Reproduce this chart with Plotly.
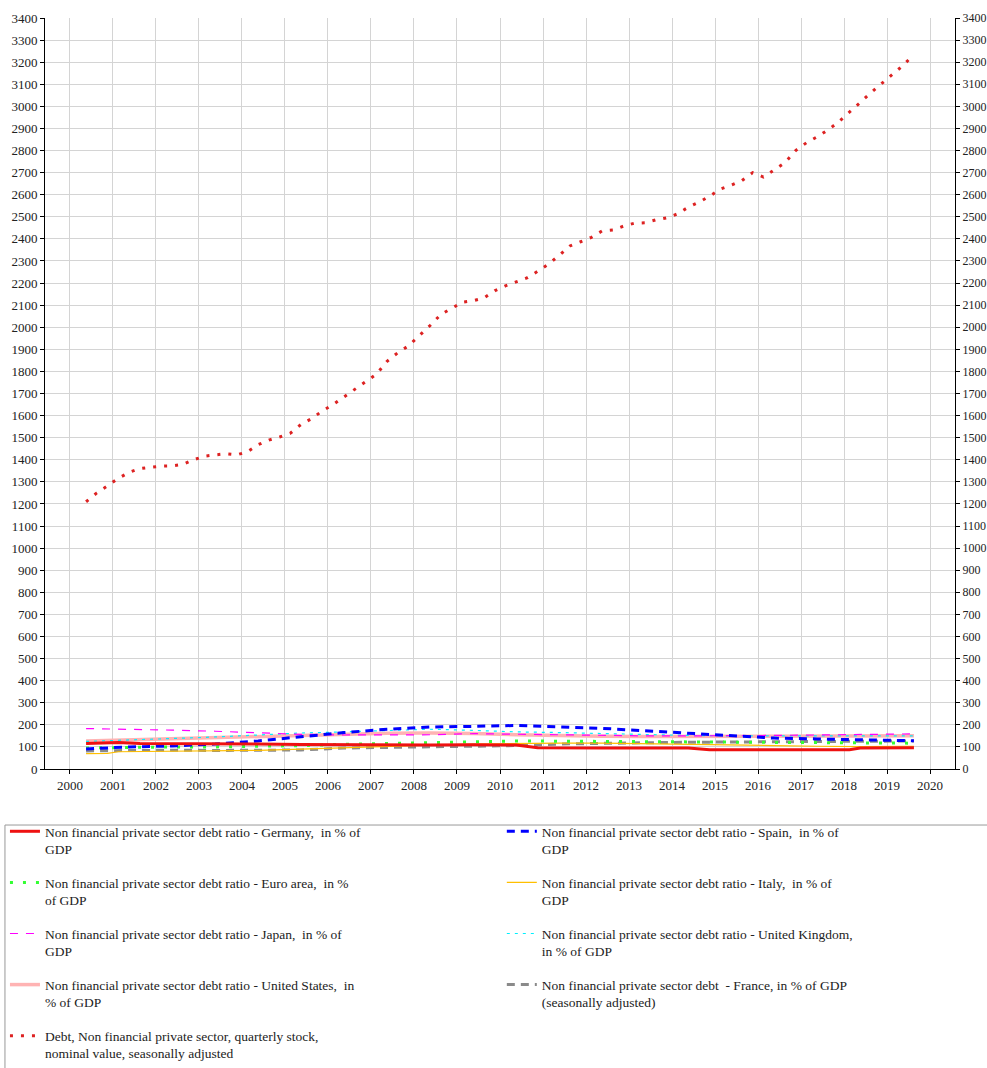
import plotly.graph_objects as go

# ---------------- data ----------------
# Debt, non financial private sector (quarterly, 2000Q2 .. 2019Q3, mid-quarter positions)
debt_x = [2000.375 + 0.25 * k for k in range(78)]
debt_y = [1210, 1250, 1282, 1316, 1343, 1360, 1366, 1371, 1372, 1379,
          1400, 1416, 1422, 1427, 1422, 1436, 1468, 1489, 1503, 1520,
          1560, 1587, 1622, 1651, 1685, 1720, 1753, 1787, 1846, 1885,
          1916, 1960, 2008, 2058, 2084, 2113, 2120, 2132, 2165, 2187,
          2205, 2223, 2253, 2285, 2325, 2368, 2387, 2407, 2436, 2440,
          2458, 2471, 2473, 2486, 2495, 2513, 2543, 2566, 2593, 2626,
          2643, 2664, 2700, 2680, 2712, 2745, 2800, 2835, 2862, 2893,
          2930, 2972, 3017, 3062, 3103, 3146, 3186, 3235]

yr_x = [2000.375 + k for k in range(20)] + [2019.625]

germany_x = [2000.375, 2001.125, 2001.625, 2002.375, 2003.375, 2004.375, 2005.375,
             2006.375, 2007.375, 2008.375, 2009.375, 2010.375, 2010.875, 2011.375,
             2012.375, 2013.375, 2014.375, 2014.875, 2015.375, 2016.375, 2017.375,
             2018.125, 2018.375, 2019.375, 2019.625]
germany_y = [116, 120, 116, 116, 115, 113, 111, 110, 108, 109, 110, 109, 96, 95,
             95, 95, 95, 87, 87, 87, 87, 87, 95, 96, 96]

spain_y = [91, 100, 104, 113, 127, 146, 165, 180, 190, 193, 197, 191, 184, 173,
           162, 152, 140, 136, 131, 128, 128]
euro_y = [95, 99, 100, 100, 102, 106, 112, 116, 122, 126, 127, 126, 125, 124,
          122, 120, 119, 118, 117, 117, 117]
italy_x = [2000.375, 2000.875, 2001.125, 2002.375, 2003.375, 2004.375, 2005.375,
           2006.375, 2007.375, 2008.375, 2009.375, 2010.375, 2011.375, 2012.375,
           2013.375, 2014.375, 2015.375, 2016.375, 2017.375, 2018.375, 2019.375, 2019.625]
italy_y = [70, 71, 78, 79, 81, 84, 90, 97, 103, 108, 113, 116, 117, 117,
           115, 113, 110, 106, 103, 101, 103, 103]
japan_y = [183, 181, 176, 171, 164, 157, 154, 153, 155, 160, 157, 153, 151, 150,
           150, 150, 152, 154, 156, 158, 159]
uk_y = [125, 130, 138, 145, 155, 163, 168, 175, 180, 175, 168, 165, 160, 155,
        152, 150, 150, 152, 150, 150, 150]
us_y = [127, 132, 135, 139, 145, 150, 158, 162, 163, 161, 155, 150, 148, 147,
        147, 147, 148, 149, 150, 150, 150]
france_y = [82, 84, 85, 84, 84, 86, 95, 98, 101, 104, 106, 113, 117, 119,
            121, 122, 122, 124, 125, 127, 127]

year_ticks = list(range(2000, 2021))
y_ticks = list(range(0, 3401, 100))

names = {
    "de": "Non financial private sector debt ratio - Germany,  in % of<br>GDP",
    "es": "Non financial private sector debt ratio - Spain,  in % of<br>GDP",
    "ea": "Non financial private sector debt ratio - Euro area,  in %<br>of GDP",
    "it": "Non financial private sector debt ratio - Italy,  in % of<br>GDP",
    "jp": "Non financial private sector debt ratio - Japan,  in % of<br>GDP",
    "uk": "Non financial private sector debt ratio - United Kingdom,<br>in % of GDP",
    "us": "Non financial private sector debt ratio - United States,  in<br>% of GDP",
    "fr": "Non financial private sector debt  - France, in % of GDP<br>(seasonally adjusted)",
    "debt": "Debt, Non financial private sector, quarterly stock,<br>nominal value, seasonally adjusted",
}

FONT = "Liberation Serif"
fig = go.Figure()

def add(key, x, y, color, width, dash, legend, rank):
    fig.add_trace(go.Scatter(
        x=x, y=y, mode="lines", name=names[key],
        line=dict(color=color, width=width, dash=dash),
        legend=legend, legendgroup=key, legendrank=rank,
        hoverinfo="skip"))

# draw order: bottom first
add("debt", debt_x, debt_y, "#dd2222", 3, "3px,8px", "legend", 5)
add("fr", yr_x, france_y, "#8a8a8a", 3, "8px,6px", "legend2", 4)
add("us", yr_x, us_y, "#ffb3b3", 3.5, "solid", "legend", 4)
add("uk", yr_x, uk_y, "#00f0ff", 1.2, "3px,5px", "legend2", 3)
add("jp", yr_x, japan_y, "#ff00ff", 1.2, "8px,8px", "legend", 3)
add("it", italy_x, italy_y, "#ffbf00", 1.2, "solid", "legend2", 2)
add("ea", yr_x, euro_y, "#33ff33", 3, "3px,10px", "legend", 2)
add("es", yr_x, spain_y, "#0000ff", 3, "8px,6px", "legend2", 1)
add("de", germany_x, germany_y, "#ee1111", 3, "solid", "legend", 1)

# invisible trace to carry the right-hand axis
fig.add_trace(go.Scatter(x=[2000], y=[0], yaxis="y2", mode="markers",
                         marker=dict(opacity=0), showlegend=False, hoverinfo="skip"))

axis_common = dict(showline=True, linecolor="black", linewidth=1, ticks="outside",
                   ticklen=4, tickcolor="black", zeroline=False, automargin=False)
TICK_FONT = dict(family=FONT, size=13, color="#222")
LEG_FONT = dict(family=FONT, size=13.5, color="#222")

fig.update_layout(
    width=987, height=1068,
    margin=dict(l=45, r=32, t=18, b=299, autoexpand=False),
    paper_bgcolor="white", plot_bgcolor="white",
    font=dict(family=FONT, size=13, color="#222"),
    xaxis=dict(range=[1999.42, 2020.58], tickmode="array", tickvals=year_ticks,
               showgrid=True, gridcolor="#d4d4d4", gridwidth=1,
               tickfont=TICK_FONT, **axis_common),
    yaxis=dict(range=[0, 3400], tickmode="array", tickvals=y_ticks,
               showgrid=True, gridcolor="#d4d4d4", gridwidth=1,
               tickfont=TICK_FONT, **axis_common),
    yaxis2=dict(range=[0, 3400], tickmode="array", tickvals=y_ticks, overlaying="y",
                side="right", showgrid=False,
                tickfont=dict(family=FONT, size=12, color="#222"), **axis_common),
    legend=dict(x=-0.044, y=-0.0626, xanchor="left", yanchor="top",
                orientation="v", traceorder="grouped", tracegroupgap=13,
                valign="top", bgcolor="rgba(0,0,0,0)", borderwidth=0,
                font=LEG_FONT),
    legend2=dict(x=0.502, y=-0.0626, xanchor="left", yanchor="top",
                 orientation="v", traceorder="grouped", tracegroupgap=13,
                 valign="top", bgcolor="rgba(0,0,0,0)", borderwidth=0,
                 font=LEG_FONT),
    shapes=[dict(type="rect", xref="paper", yref="paper",
                 x0=-0.044, x1=1.05, y0=-0.0746, y1=-0.42,
                 line=dict(color="#999999", width=1), fillcolor="rgba(0,0,0,0)")],
    showlegend=True,
)

# remove the page's default 8px body margin so the figure fills the window exactly
fig.write_html("out.html", config={"displayModeBar": False},
               post_script="document.body.style.margin='0';document.body.style.overflow='hidden';")
